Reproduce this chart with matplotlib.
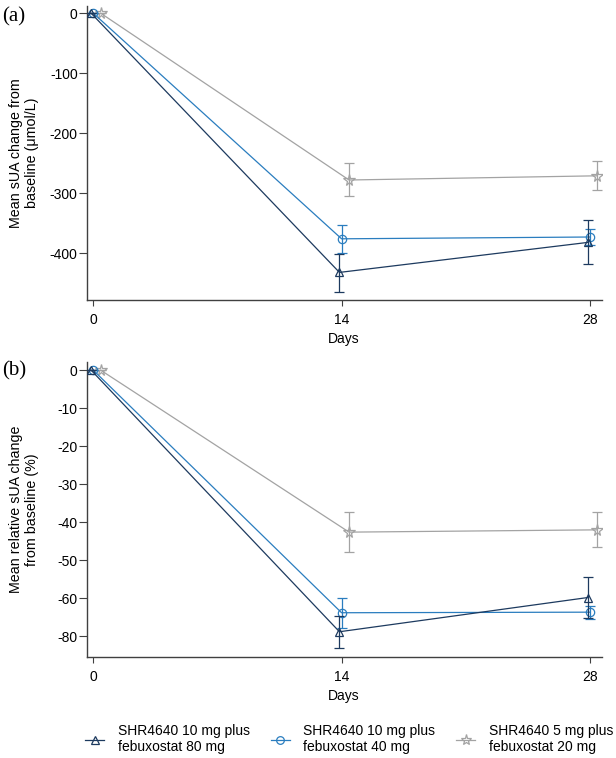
import numpy as np
import matplotlib
matplotlib.use("Agg")
import matplotlib.pyplot as plt
from matplotlib.lines import Line2D

# ------------- data -------------
days = [0, 14, 28]
groups = ["SHR4640 10 mg plus\nfebuxostat 80 mg",
          "SHR4640 10 mg plus\nfebuxostat 40 mg",
          "SHR4640 5 mg plus\nfebuxostat 20 mg"]
dodge = [-0.12, 0.0, 0.42]   # small horizontal shift per group

# panel (a): mean change from baseline (umol/L), with lower/upper bar ends
abs_mean = [[0, -432, -382], [0, -376, -373], [0, -278, -271]]
abs_lo = [[0, -464, -418], [0, -400, -386], [0, -304, -295]]
abs_hi = [[0, -401, -345], [0, -353, -360], [0, -250, -246]]

# panel (b): mean relative change from baseline (%)
rel_mean = [[0, -77.6, -59.8], [0, -67.6, -67.3], [0, -42.6, -42.0]]
rel_lo = [[0, -86.0, -70.5], [0, -75.8, -70.9], [0, -47.9, -46.5]]
rel_hi = [[0, -69.4, -54.3], [0, -60.1, -63.8], [0, -37.3, -37.2]]

abs_ticks = [0, -100, -200, -300, -400]
rel_ticks = [0, -10, -20, -30, -40, -50, -60, -80]

# ------------- styling -------------
COLORS = ["#1d3a5f", "#2a7dbf", "#a3a3a3"]
MARKERS = ["^", "o", "*"]
MSIZE = [6, 6, 8.5]
SPINE = "#404040"
plt.rcParams["font.family"] = ["Liberation Sans", "DejaVu Sans"]


# y axis of panel (b): the stretch below -60 is drawn at half scale
def fwd(y):
    y = np.asarray(y, dtype=float)
    return np.where(y >= -60, y, -60 + (y + 60) / 2)


def inv(x):
    x = np.asarray(x, dtype=float)
    return np.where(x >= -60, x, -60 + (x + 60) * 2)


def draw_panel(ax, mean, lo, hi, ticks, ylabel, ylim):
    for i in range(3):
        x = np.array(days) + dodge[i]
        m = np.array(mean[i])
        err = [m - np.array(lo[i]), np.array(hi[i]) - m]
        ax.errorbar(x, m, yerr=err, color=COLORS[i], lw=0.9,
                    marker=MARKERS[i], ms=MSIZE[i], mfc="none",
                    mec=COLORS[i], mew=0.9, capsize=3.8, capthick=0.9,
                    elinewidth=0.9, zorder=3 - i)
    ax.set_ylim(*ylim)
    ax.set_xlim(-0.37, 28.66)
    ax.set_xticks(days)
    ax.set_yticks(ticks)
    ax.set_yticklabels([str(t) for t in ticks])
    ax.yaxis.set_minor_locator(matplotlib.ticker.NullLocator())
    ax.set_xlabel("Days", fontsize=10, labelpad=4)
    ax.set_ylabel(ylabel, fontsize=10.3)
    ax.yaxis.set_label_coords(-0.093, 0.5)
    for s in ["top", "right"]:
        ax.spines[s].set_visible(False)
    for s in ["left", "bottom"]:
        ax.spines[s].set_color(SPINE)
        ax.spines[s].set_linewidth(1.0)
    ax.tick_params(axis="y", direction="out", length=5.5, width=0.8,
                   color=SPINE, labelsize=10, pad=1)
    ax.tick_params(axis="x", direction="out", length=4.5, width=0.8,
                   color=SPINE, labelsize=10, pad=4.5)


fig = plt.figure(figsize=(6.16, 7.58), dpi=100)
ax1 = fig.add_axes([0.1407, 0.6042, 0.836, 0.3879])
ax2 = fig.add_axes([0.1407, 0.1332, 0.836, 0.389])
ax2.set_yscale("function", functions=(fwd, inv))

draw_panel(ax1, abs_mean, abs_lo, abs_hi, abs_ticks,
           "Mean sUA change from\nbaseline (\u03bcmol/L)", (-478, 12))
draw_panel(ax2, rel_mean, rel_lo, rel_hi, rel_ticks,
           "Mean relative sUA change\nfrom baseline (%)", (-90.9, 2.1))

fig.text(0.003, 0.978, "(a)", family="Liberation Serif", fontsize=15, va="center")
fig.text(0.003, 0.511, "(b)", family="Liberation Serif", fontsize=15, va="center")

handles = [Line2D([], [], color=COLORS[i], lw=0.9, marker=MARKERS[i],
                  ms=MSIZE[i] - 0.5, mfc="none", mec=COLORS[i], mew=0.9)
           for i in range(3)]
fig.legend(handles, groups, loc="center", bbox_to_anchor=(0.567, 0.025),
           ncol=3, frameon=False, fontsize=10, handlelength=1.35,
           handletextpad=1.0, columnspacing=1.5)

fig.savefig("out.png", dpi=100)
